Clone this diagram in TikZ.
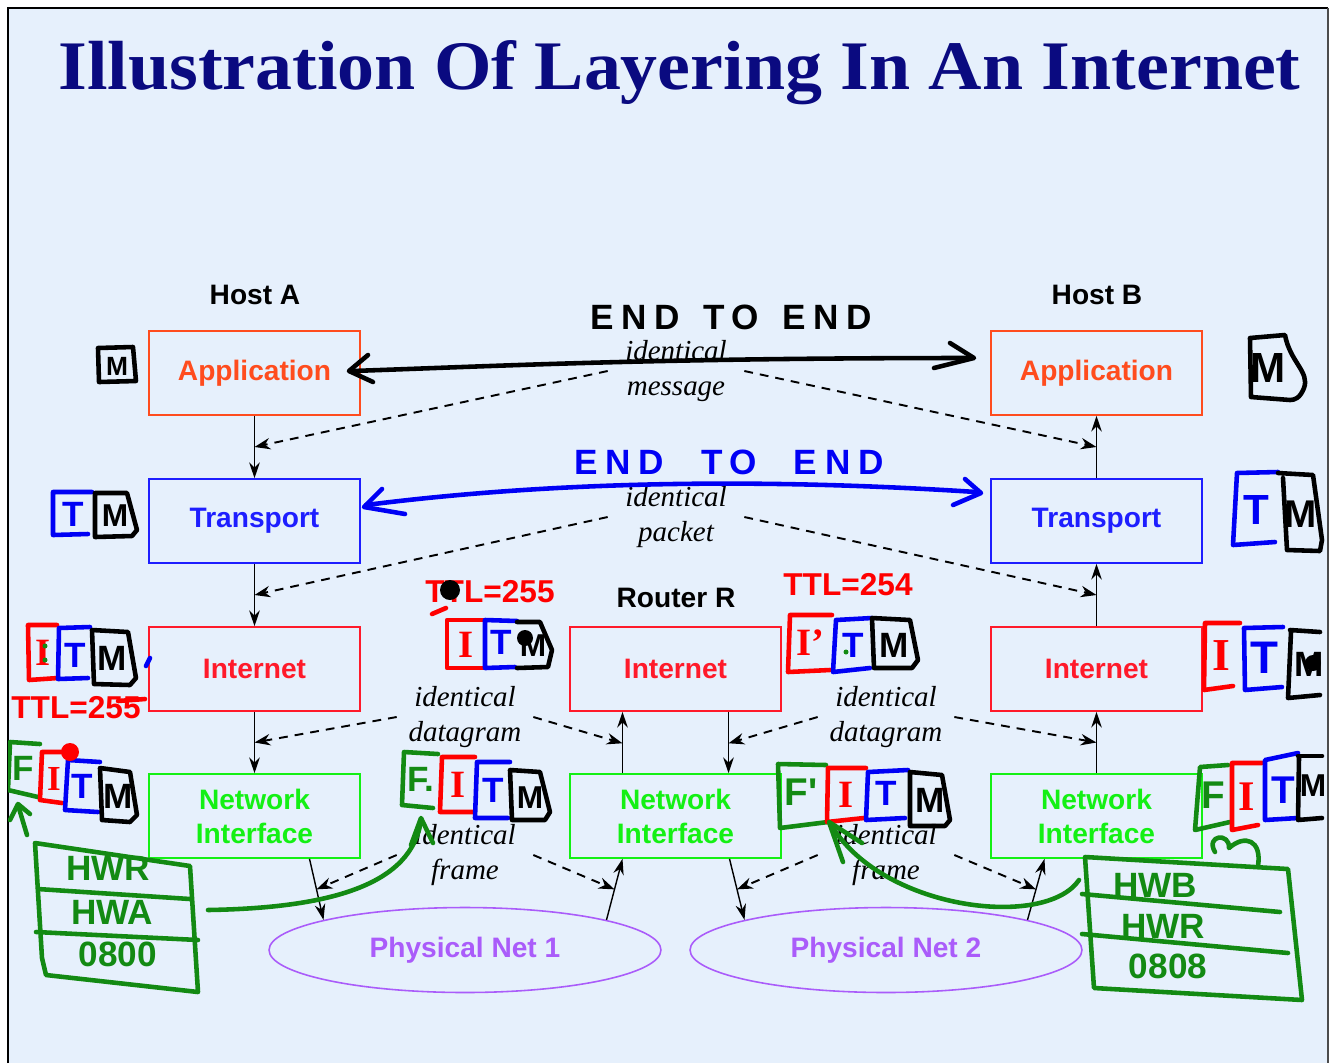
\documentclass[tikz,border=0pt]{standalone}
\usepackage{graphicx}
\usepackage{fontspec}
\setmainfont{Liberation Serif}
\setsansfont{Liberation Sans}
\newfontfamily\penfont{Liberation Sans}
\newfontfamily\penwide[LetterSpace=22]{Liberation Sans}
\usetikzlibrary{arrows.meta,calc,shapes.geometric}

\definecolor{pagebg}{HTML}{E6F0FC}
\definecolor{titlecol}{HTML}{0A0A80}
\definecolor{appcol}{HTML}{FF4C1E}
\definecolor{trcol}{HTML}{1E1EFF}
\definecolor{incol}{HTML}{FF1A2A}
\definecolor{nicol}{HTML}{14F014}
\definecolor{netcol}{HTML}{AA5CFA}
\definecolor{hred}{HTML}{FF0000}
\definecolor{hblue}{HTML}{0000F5}
\definecolor{hgreen}{HTML}{138A13}

\begin{document}
\begin{tikzpicture}[x=0.02cm, y=-0.02cm,
  layer/.style={draw, line width=0.9pt, minimum width=4.22cm, minimum height=1.68cm,
    inner sep=0pt, align=center, font=\sffamily\bfseries\fontsize{16}{19.3}\selectfont},
  appbox/.style={layer, draw=appcol, text=appcol},
  trbox/.style={layer, draw=trcol, text=trcol},
  inbox/.style={layer, draw=incol, text=incol},
  nibox/.style={layer, draw=nicol, text=nicol},
  netbox/.style={ellipse, draw=netcol, text=netcol, line width=0.9pt,
    minimum width=7.84cm, minimum height=1.7cm, inner sep=0pt,
    font=\sffamily\bfseries\fontsize{16}{19}\selectfont},
  hostlbl/.style={inner sep=0pt, font=\sffamily\bfseries\fontsize{16}{19}\selectfont},
  samelbl/.style={inner sep=0pt, align=center, minimum width=2.72cm,
    font=\itshape\fontsize{16.5}{19.5}\selectfont},
  flow/.style={line width=0.8pt, -{Stealth[length=9pt,width=6pt]}},
  peer/.style={line width=1.1pt, dash pattern=on 5pt off 4pt, -{Stealth[length=9pt,width=6.5pt]}},
  pen/.style={line width=2.6pt, line cap=round, line join=round},
  glyph/.style={inner sep=0pt, font=\penfont\bfseries\fontsize{#1}{#1}\selectfont},
  glyph/.default=20,
  glyphI/.style={inner sep=0pt, font=\bfseries\fontsize{#1}{#1}\selectfont},
  glyphI/.default=22,
]
\useasboundingbox (0,0) rectangle (1336,1063);
\fill[white] (0,0) rectangle (1336,1063);
\fill[pagebg] (8,8) rectangle (1328,1063);
\draw[line width=1.3pt] (8,1063) -- (8,8) -- (1328,8);

% title
\node[anchor=base west, inner sep=0pt, text=titlecol] (title) at (58,89)
  {\resizebox{24.84cm}{0.98cm}{\bfseries Illustration Of Layering In An Internet}};

% protocol layers
\node[appbox] (appA) at (254.5,373) {Application};
\node[trbox]  (trA)  at (254.5,521) {Transport};
\node[inbox]  (inA)  at (254.5,669) {Internet};
\node[nibox]  (niA)  at (254.5,816) {Network\\Interface};
\node[inbox]  (inR)  at (675.5,669) {Internet};
\node[nibox]  (niR)  at (675.5,816) {Network\\Interface};
\node[appbox] (appB) at (1096.5,373) {Application};
\node[trbox]  (trB)  at (1096.5,521) {Transport};
\node[inbox]  (inB)  at (1096.5,669) {Internet};
\node[nibox]  (niB)  at (1096.5,816) {Network\\Interface};
\node[netbox] (net1) at (465,950) {Physical Net 1};
\node[netbox] (net2) at (886,950) {Physical Net 2};

\node[hostlbl] (hostA)  at (255,295) {Host A};
\node[hostlbl] (hostB)  at (1097,295) {Host B};
\node[hostlbl] (router) at (676,598) {Router R};

% peer labels
\node[samelbl] (msg) at (676,371) {identical\\message};
\node[samelbl] (pkt) at (676,517) {identical\\packet};
\node[samelbl] (dgL) at (465,717) {identical\\datagram};
\node[samelbl] (dgR) at (886,717) {identical\\datagram};
\node[samelbl] (frL) at (465,855) {identical\\frame};
\node[samelbl] (frR) at (886,855) {identical\\frame};

% data path
\draw[flow] (appA.south) -- (trA.north);
\draw[flow] (trA.south) -- (inA.north);
\draw[flow] (inA.south) -- (niA.north);
\coordinate (aOut) at ($(niA.south)+(55,0)$);
\draw[flow] (aOut) -- (net1.168);
\coordinate (rInL) at ($(niR.south)+(-53,0)$);
\draw[flow] (net1.12) -- (rInL);
\draw[flow] ($(niR.north)+(-53,0)$) -- ($(inR.south)+(-53,0)$);
\draw[flow] ($(inR.south)+(53,0)$) -- ($(niR.north)+(53,0)$);
\coordinate (rOut) at ($(niR.south)+(54,0)$);
\draw[flow] (rOut) -- (net2.168);
\coordinate (bIn) at ($(niB.south)+(-52,0)$);
\draw[flow] (net2.12) -- (bIn);
\draw[flow] (niB.north) -- (inB.south);
\draw[flow] (inB.north) -- (trB.south);
\draw[flow] (trB.north) -- (appB.south);

% peer relations
\draw[peer] (msg.west) -- ($(appA.south)!.5!(trA.north)$);
\draw[peer] (msg.east) -- ($(appB.south)!.5!(trB.north)$);
\draw[peer] (pkt.west) -- ($(trA.south)!.5!(inA.north)$);
\draw[peer] (pkt.east) -- ($(trB.south)!.5!(inB.north)$);
\draw[peer] (dgL.west) -- ($(inA.south)!.5!(niA.north)$);
\draw[peer] (dgL.east) -- ($(inR.south)+(-53,31.5)$);
\draw[peer] (dgR.west) -- ($(inR.south)+(53,31.5)$);
\draw[peer] (dgR.east) -- ($(inB.south)!.5!(niB.north)$);
\draw[peer] (frL.west) -- ($(aOut)!.5!(net1.168)$);
\draw[peer] (frL.east) -- ($(net1.12)!.5!(rInL)$);
\draw[peer] (frR.west) -- ($(rOut)!.5!(net2.168)$);
\draw[peer] (frR.east) -- ($(net2.12)!.5!(bIn)$);

% ---------------- pen notes ----------------
\begin{scope}
\clip (8,8) rectangle (1326,1063);

% end to end, application
\node[inner sep=0pt, font=\penwide\bfseries\fontsize{20}{20}\selectfont] (e2eA) at (731,317) {END\, TO\, END};
\draw[pen] (352,371) .. controls (500,366) and (650,358) .. (970,358);
\draw[pen] (368,355) -- (349,371) -- (373,382);
\draw[pen] (950,343) -- (974,358) -- (934,368);

% end to end, transport
\node[inner sep=0pt, text=hblue, font=\penwide\bfseries\fontsize{20}{20}\selectfont] (e2eT) at (729,462) {END\;\; TO\;\; END};
\draw[pen,hblue] (366,505) .. controls (500,488) and (700,474) .. (976,492);
\draw[pen,hblue] (382,489) -- (364,507) -- (405,514);
\draw[pen,hblue] (965,479) -- (981,493) -- (953,505);

% host A, message
\draw[pen] (98,348) -- (133,347) -- (136,381) -- (99,382) -- cycle;
\node[glyph=15] (aM0) at (117,366) {M};

% host B, message
\draw[pen] (1250,338) -- (1285,335) .. controls (1290,362) and (1310,372) .. (1304,388)
  .. controls (1300,398) and (1295,400) .. (1290,400) -- (1251,397) -- cycle;
\node[glyph=24] (bM0) at (1268,368) {M};

% host A, segment
\draw[pen,hblue] (92,492) -- (53,492) -- (53,535) -- (88,534);
\node[glyph=20,text=hblue] (aT1) at (73,514) {T};
\draw[pen] (95,537) -- (95,493) -- (127,493) -- (137,530) -- (132,536) -- cycle;
\node[glyph=18] (aM1) at (115,516) {M};

% host B, segment
\draw[pen,hblue] (1278,472) -- (1237,473) -- (1233,545) -- (1275,542);
\node[glyph=24,text=hblue] (bT1) at (1256,510) {T};
\draw[pen] (1278,473) -- (1313,475) -- (1322,540) -- (1320,551) -- (1287,550) -- (1283,478);
\node[glyph=22] (bM1) at (1301,514) {M};

% host A, datagram
\draw[pen,hred] (57,625) -- (28,625) -- (29,680) -- (58,678);
\node[glyphI=22,text=hred] (aI2) at (43,653) {I};
\fill[hgreen] (45,646) circle (2.5);
\fill[hgreen] (45,660) circle (2.5);
\draw[pen,hblue] (90,627) -- (59,628) -- (58,679) -- (88,678);
\node[glyph=20,text=hblue] (aT2) at (75,655) {T};
\draw[pen] (92,630) -- (128,632) -- (136,678) -- (130,685) -- (94,684) -- cycle;
\node[glyph=20] (aM2) at (112,658) {M};
\draw[pen,hblue] (146,666) -- (150,658);
\node[glyph=18,text=hred] (aTTL) at (76,708) {TTL=255};
\draw[pen,hred] (118,701) -- (145,699);

% host A, frame
\draw[pen,hgreen] (40,744) -- (10,742) -- (8,790) -- (38,797);
\node[glyph=20,text=hgreen] (aF3) at (23,768) {F};
\draw[pen,hred] (66,752) -- (42,752) -- (40,800) -- (62,803);
\node[glyphI=20,text=hred] (aI3) at (54,779) {I};
\draw[pen,hblue] (100,762) -- (68,760) -- (65,810) -- (98,812);
\node[glyph=20,text=hblue] (aT3) at (82,786) {T};
\draw[pen] (100,768) -- (130,772) -- (137,815) -- (130,822) -- (102,820) -- cycle;
\node[glyph=20] (aM3) at (118,796) {M};
\fill[hred] (70,752) circle (9);
\draw[pen,hgreen] (27,835) -- (18,805);
\draw[pen,hgreen] (10,820) -- (18,804) -- (30,814);

% host A, frame header
\draw[pen,hgreen] (35,843) -- (190,866) -- (198,992) -- (46,975) -- (42,958) -- cycle;
\draw[pen,hgreen] (38,889) -- (190,899);
\draw[pen,hgreen] (36,932) -- (198,940);
\node[glyph=20,text=hgreen] (aHWR) at (108,868) {HWR};
\node[glyph=20,text=hgreen] (aHWA) at (112,912) {HWA};
\node[glyph=20,text=hgreen] (aTyp) at (118,954) {0800};
\draw[pen,hgreen] (208,910) .. controls (330,908) and (412,885) .. (421,820);
\draw[pen,hgreen] (411,845) -- (421,818) -- (433,843);

% router, arriving datagram
\node[glyph=18,text=hred] (rTTL1) at (490,592) {TTL=255};
\fill (450,590) circle (10);
\draw[pen,hred] (432,614) -- (446,608);
\draw[pen,hred] (485,620) -- (447,620) -- (447,668) -- (483,668);
\node[glyphI=22,text=hred] (rI1) at (466,645) {I};
\draw[pen,hblue] (517,621) -- (485,620) -- (485,668) -- (515,667);
\node[glyph=20,text=hblue] (rT1) at (501,642) {T};
\draw[pen] (517,622) -- (540,622) -- (552,650) -- (548,667) -- (517,668);
\node[glyph=18] (rM1) at (533,646) {M};
\fill (525,638) circle (8);

% router, arriving frame
\draw[pen,hgreen] (438,754) -- (404,752) -- (402,805) -- (433,808);
\node[glyph=20,text=hgreen] (rF2) at (421,779) {F.};
\draw[pen,hred] (475,757) -- (442,757) -- (440,812) -- (473,812);
\node[glyphI=22,text=hred] (rI2) at (458,785) {I};
\draw[pen,hblue] (510,762) -- (477,762) -- (475,818) -- (508,818);
\node[glyph=20,text=hblue] (rT2) at (493,790) {T};
\draw[pen] (510,770) -- (540,772) -- (550,812) -- (545,820) -- (512,820) -- cycle;
\node[glyph=18] (rM2) at (530,798) {M};

% router, leaving datagram
\node[glyph=18,text=hred] (rTTL2) at (848,585) {TTL=254};
\draw[pen,hred] (832,615) -- (790,615) -- (788,672) -- (830,670);
\node[glyphI=22,text=hred] (rI3) at (810,643) {I'};
\draw[pen,hblue] (872,618) -- (836,620) -- (833,672) -- (870,668);
\node[glyph=20,text=hblue] (rT3) at (853,645) {T};
\fill[hgreen] (846,652) circle (2.5);
\draw[pen] (872,618) -- (910,620) -- (918,660) -- (912,668) -- (874,668) -- cycle;
\node[glyph=20] (rM3) at (894,645) {M};

% router, leaving frame
\draw[pen,hgreen] (826,765) -- (778,764) -- (780,828) -- (828,822);
\node[glyph=22,text=hgreen] (rF4) at (801,792) {F'};
\draw[pen,hred] (866,768) -- (828,768) -- (827,822) -- (864,818);
\node[glyphI=22,text=hred] (rI4) at (846,795) {I};
\draw[pen,hblue] (908,770) -- (868,772) -- (866,820) -- (905,818);
\node[glyph=20,text=hblue] (rT4) at (886,793) {T};
\draw[pen] (910,772) -- (942,775) -- (950,820) -- (945,826) -- (910,826) -- cycle;
\node[glyph=20] (rM4) at (930,800) {M};

% host B, datagram
\draw[pen,hred] (1240,623) -- (1205,623) -- (1204,690) -- (1233,686);
\node[glyphI=26,text=hred] (bI2) at (1221,656) {I};
\draw[pen,hblue] (1283,627) -- (1244,628) -- (1245,690) -- (1282,687);
\node[glyph=26,text=hblue] (bT2) at (1264,658) {T};
\draw[pen] (1290,630) -- (1320,632);
\draw[pen] (1291,632) -- (1288,698) -- (1320,695);
\node[glyph=20] (bM2) at (1309,664) {M};
\fill (1313,663) circle (8);

% host B, frame
\draw[pen,hgreen] (1228,765) -- (1200,767) -- (1195,830) -- (1230,822);
\node[glyph=22,text=hgreen] (bF3) at (1213,795) {F};
\draw[pen,hred] (1262,763) -- (1232,763) -- (1232,830) -- (1258,825);
\node[glyphI=24,text=hred] (bI3) at (1247,797) {I};
\draw[pen,hblue] (1298,753) -- (1265,760) -- (1265,820) -- (1298,818);
\node[glyph=22,text=hblue] (bT3) at (1283,790) {T};
\draw[pen] (1298,756) -- (1322,756);
\draw[pen] (1299,758) -- (1298,820) -- (1322,818);
\node[glyph=18] (bM3) at (1313,786) {M};

% host B, frame header
\draw[pen,hgreen] (1085,857) -- (1288,869) -- (1302,1000) -- (1094,988) -- cycle;
\draw[pen,hgreen] (1082,894) -- (1280,912);
\draw[pen,hgreen] (1082,934) -- (1288,953);
\node[glyph=20,text=hgreen] (bHWB) at (1155,885) {HWB};
\node[glyph=20,text=hgreen] (bHWR) at (1163,926) {HWR};
\node[glyph=20,text=hgreen] (bTyp) at (1168,966) {0808};
\draw[pen,hgreen] (1215,852) .. controls (1205,835) and (1230,832) .. (1229,848)
  .. controls (1245,834) and (1262,840) .. (1258,866);
\draw[pen,hgreen] (1079,880) .. controls (1045,930) and (880,910) .. (830,823);
\draw[pen,hgreen] (843,862) -- (829,822) -- (862,843);
\end{scope}

\draw[line width=1.3pt, black!70] (1328,8) -- (1328,1063);
\end{tikzpicture}
\end{document}
